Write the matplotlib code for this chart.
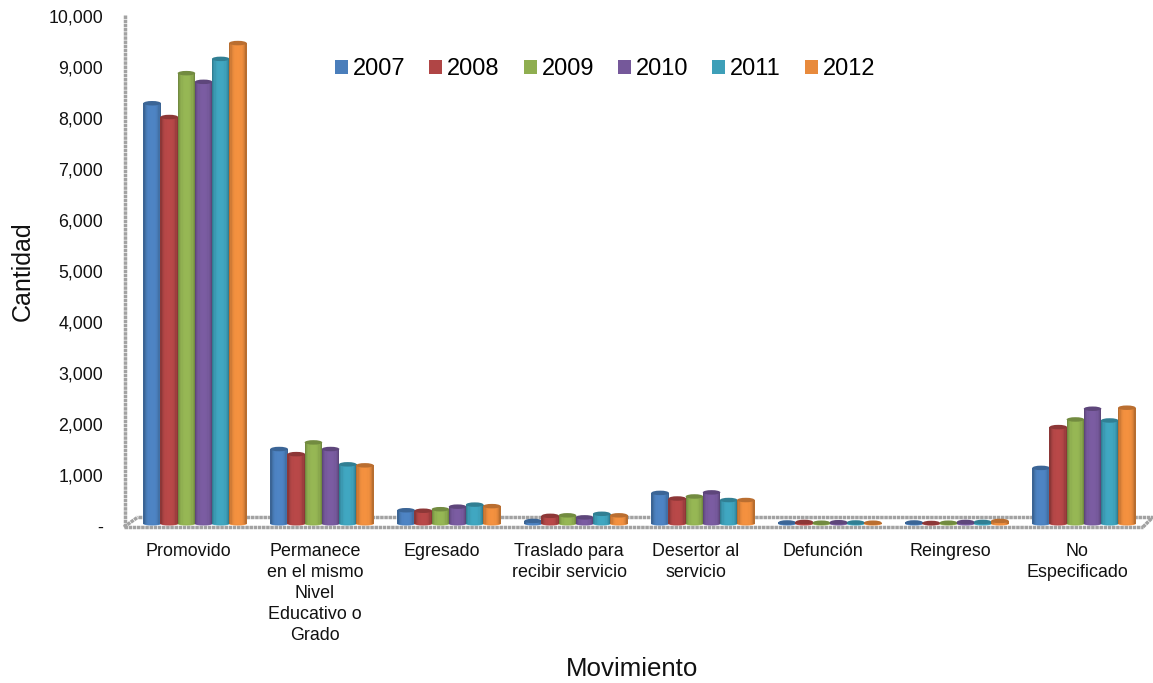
import matplotlib
matplotlib.use("Agg")
import matplotlib.pyplot as plt
import numpy as np
from matplotlib.patches import Ellipse, Patch
from matplotlib.lines import Line2D
from matplotlib.transforms import Affine2D
from matplotlib.colors import to_rgb

plt.rcParams['font.family'] = ['Liberation Sans', 'DejaVu Sans']

categories = ["Promovido", "Permanece\nen el mismo\nNivel\nEducativo o\nGrado", "Egresado",
              "Traslado para\nrecibir servicio", "Desertor al\nservicio", "Defunción",
              "Reingreso", "No\nEspecificado"]
years = ["2007", "2008", "2009", "2010", "2011", "2012"]
colors = ["#4A7EBB", "#B04545", "#8FAE50", "#75589A", "#3D9FB8", "#E88A3C"]
v2007 = [8250, 1470, 270, 60, 610, 30, 30, 1100]
v2008 = [7980, 1370, 260, 160, 500, 40, 20, 1900]
v2009 = [8840, 1600, 290, 170, 540, 25, 25, 2050]
v2010 = [8670, 1470, 340, 130, 620, 35, 40, 2260]
v2011 = [9120, 1170, 380, 200, 470, 30, 40, 2030]
v2012 = [9430, 1150, 350, 170, 470, 25, 60, 2280]
series = [v2007, v2008, v2009, v2010, v2011, v2012]
yticks = [0, 1000, 2000, 3000, 4000, 5000, 6000, 7000, 8000, 9000, 10000]
ylabels = ["-", "1,000", "2,000", "3,000", "4,000", "5,000", "6,000", "7,000", "8,000", "9,000", "10,000"]

W, H = 1153, 683
fig = plt.figure(figsize=(W / 100, H / 100), dpi=100, facecolor="white")
L, R, T, B = 124, 1143, 16, 526
ax = fig.add_axes([L / W, 1 - B / H, (R - L) / W, (B - T) / H])
GROUP = 127.0
ax.set_xlim((L - 195) / GROUP, (R - 195) / GROUP)
ax.set_ylim(0, 10000)
ax.patch.set_visible(False)

for s in ax.spines.values():
    s.set_visible(False)

GRAY = "#A2A2A2"
def fline(xs, ys, lw=2.5):
    fig.add_artist(Line2D([x / W for x in xs], [1 - y / H for y in ys], color=GRAY, lw=lw,
                          ls=(0, (1, 0.2)), zorder=0))
fline([124.5, 124.5], [15, 527])
fline([124, 1143], [527, 527])
fline([1143, 1153], [527, 517])
fline([124, 138], [527, 517])
fline([138, 1153], [517, 517])

shift = ax.transData + Affine2D().translate(0, 2)
bw = 17.6 / GROUP
step = 17.15 / GROUP
px_per_val = (B - T) / 10000
N = 14
offs = np.linspace(-0.5, 0.5, N, endpoint=False) + 0.5 / N

def shade(c, t):
    rgb = np.array(to_rgb(c))
    edge = abs(t) * 2
    k = 1.05 - 0.32 * edge ** 3
    return tuple(np.clip(rgb * k, 0, 1))

for j, (vals, col) in enumerate(zip(series, colors)):
    z = 3 + j * 0.01
    for i, v in enumerate(vals):
        xc = i + (j - 2.5) * step
        for t in offs:
            ax.bar(xc + t * bw, v, width=bw / N * 1.1, color=shade(col, t), lw=0,
                   transform=shift, zorder=z, clip_on=False)
        ax.add_patch(Ellipse((xc, 0), bw, 3 / px_per_val, color=shade(col, 0.2), lw=0, transform=shift,
                             zorder=z - 0.001, clip_on=False))
        ax.add_patch(Ellipse((xc, v), bw, 4.5 / px_per_val, color=tuple(np.array(to_rgb(col)) * 0.8), lw=0,
                             transform=shift, zorder=z + 0.001, clip_on=False))

ax.set_yticks(yticks)
ax.set_yticklabels(ylabels, fontsize=12.8, color="#111111")
ax.tick_params(axis="y", length=0, pad=15)
ax.set_xticks(np.arange(len(categories)) - 7 / GROUP)
ax.set_xticklabels(categories, fontsize=12.9, color="#111111", linespacing=1.31)
ax.tick_params(axis="x", length=0, pad=12.5)

fig.text(632 / W, 1 - 669 / H, "Movimiento", fontsize=18.6, ha="center", va="center", color="#111111")
fig.text(23 / W, 1 - 271 / H, "Cantidad", fontsize=18, rotation=90, ha="center", va="center", color="#111111")

handles = [Patch(facecolor=c, edgecolor="none") for c in colors]
ax.legend(handles, years, ncol=6, frameon=False, fontsize=17, loc="center left",
          bbox_to_anchor=((335 - L) / (R - L), (B - 69) / (B - T)), borderaxespad=0, borderpad=0,
          handlelength=0.55, handleheight=0.55, handletextpad=0.2, columnspacing=1.02)

fig.savefig("out.png", dpi=100)
